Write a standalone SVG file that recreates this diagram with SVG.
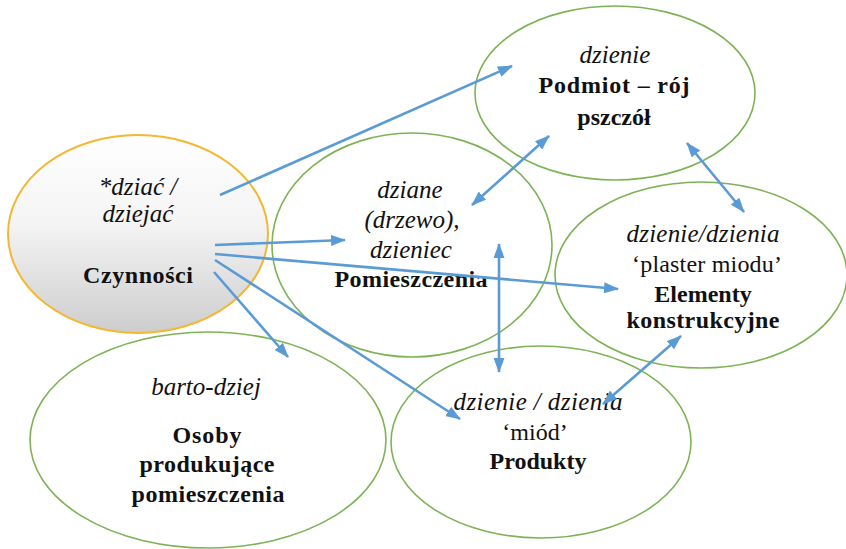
<svg xmlns="http://www.w3.org/2000/svg" width="846" height="549" viewBox="0 0 846 549">
<style>
.g{fill:none;stroke:#7DB356;stroke-width:1.6}
.o{stroke:#F3B731;stroke-width:2}
.c{stroke:#5B9BD5;stroke-width:2.6;fill:none}
text{font-family:"Liberation Serif","Times New Roman",serif;font-size:24px;fill:#111;text-anchor:middle}
.i{font-style:italic;font-size:25px}
.b{font-weight:bold}
</style>
<defs>
<linearGradient id="gr" x1="0" y1="0" x2="0" y2="1">
<stop offset="0" stop-color="#FFFFFF"/>
<stop offset="0.45" stop-color="#F4F4F4"/>
<stop offset="1" stop-color="#CDCDCD"/>
</linearGradient>
<marker id="ah" markerUnits="userSpaceOnUse" markerWidth="15" markerHeight="11" refX="14" refY="5.5" orient="auto-start-reverse">
<path d="M0,0 L15,5.5 L0,11 z" fill="#5B9BD5"/>
</marker>
</defs>
<g id="czynnosci">
<ellipse class="o" cx="138" cy="234" rx="130" ry="99" fill="url(#gr)"/>
<text class="i" x="138" y="195">*dziać /</text>
<text class="i" x="138" y="222">dziejać</text>
<text class="b" x="138" y="283" textLength="110" lengthAdjust="spacing">Czynności</text>
</g>
<g id="podmiot">
<ellipse class="g" cx="615" cy="93" rx="140" ry="87"/>
<text class="i" x="615" y="63">dzienie</text>
<text class="b" x="614" y="93" textLength="151" lengthAdjust="spacing">Podmiot – rój</text>
<text class="b" x="614" y="125">pszczół</text>
</g>
<g id="pomieszczenia">
<ellipse class="g" cx="412" cy="245" rx="140" ry="112"/>
<text class="i" x="410" y="198">dziane</text>
<text class="i" x="412" y="228">(drzewo),</text>
<text class="i" x="411" y="258">dzieniec</text>
<text class="b" x="411" y="287" textLength="153" lengthAdjust="spacing">Pomieszczenia</text>
</g>
<g id="elementy">
<ellipse class="g" cx="701" cy="275" rx="146" ry="93"/>
<text class="i" x="703" y="242" textLength="153" lengthAdjust="spacing">dzienie/dzienia</text>
<text x="707" y="272" textLength="150" lengthAdjust="spacing">‘plaster miodu’</text>
<text class="b" x="703" y="302">Elementy</text>
<text class="b" x="703" y="328" textLength="153" lengthAdjust="spacing">konstrukcyjne</text>
</g>
<g id="produkty">
<ellipse class="g" cx="541" cy="442" rx="150" ry="96"/>
<text class="i" x="538" y="410" textLength="169" lengthAdjust="spacing">dzienie / dzienia</text>
<text x="535" y="440">‘miód’</text>
<text class="b" x="538" y="469">Produkty</text>
</g>
<g id="osoby">
<ellipse class="g" cx="208" cy="440" rx="178" ry="108"/>
<text class="i" x="206" y="395">barto-dziej</text>
<text class="b" x="207" y="443" textLength="69" lengthAdjust="spacing">Osoby</text>
<text class="b" x="207" y="472" textLength="135" lengthAdjust="spacing">produkujące</text>
<text class="b" x="208" y="502" textLength="153" lengthAdjust="spacing">pomieszczenia</text>
</g>
<g id="connectors">
<line class="c" x1="220" y1="195" x2="512" y2="66" marker-end="url(#ah)" stroke-width="3"/>
<line class="c" x1="215" y1="245" x2="345" y2="240" marker-end="url(#ah)"/>
<line class="c" x1="215" y1="254" x2="618" y2="289" marker-end="url(#ah)" stroke-width="2.2"/>
<line class="c" x1="215" y1="260" x2="460" y2="419" marker-end="url(#ah)" stroke-width="3"/>
<line class="c" x1="214" y1="272" x2="288" y2="357" marker-end="url(#ah)"/>
<line class="c" x1="472" y1="205" x2="549" y2="136" marker-start="url(#ah)" marker-end="url(#ah)"/>
<line class="c" x1="499" y1="244" x2="499" y2="372" marker-start="url(#ah)" marker-end="url(#ah)"/>
<line class="c" x1="687" y1="143" x2="744" y2="212" marker-start="url(#ah)" marker-end="url(#ah)"/>
<line class="c" x1="603" y1="404" x2="681" y2="336" marker-start="url(#ah)" marker-end="url(#ah)"/>
</g>
</svg>
